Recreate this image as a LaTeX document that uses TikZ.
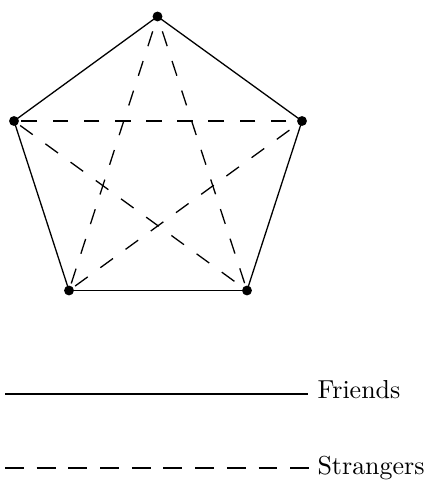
\documentclass[tikz,border=0pt]{standalone}
\usepackage{amsmath}
\usepackage{tikz}
\usetikzlibrary{positioning}

\tikzset{
    vertex/.style={circle, inner sep=0pt, minimum size=3.8pt},
    friend/.style={line width=0.5pt},
    stranger/.style={line width=0.5pt, dash pattern=on 6pt off 6pt, dash phase=6pt},
    keyline/.style={line width=1.1pt},
}

\begin{document}
\begin{tikzpicture}[x=0.385pt, y=-0.385pt]
    \useasboundingbox (0,0) rectangle (428,481);

    \node[vertex] (a) at (157.5,16.5) {};
    \node[vertex] (b) at (302,121) {};
    \node[vertex] (c) at (247,290.5) {};
    \node[vertex] (d) at (69,290.5) {};
    \node[vertex] (e) at (14,121) {};

    \path[friend]
        (a.center) edge (b.center)
        (b.center) edge (c.center)
        (c.center) edge (d.center)
        (d.center) edge (e.center)
        (e.center) edge (a.center);

    \path[stranger]
        (a.center) edge (c.center)
        (a.center) edge (d.center)
        (b.center) edge (d.center)
        (b.center) edge (e.center)
        (c.center) edge (e.center);

    % dots on top of the edges
    \foreach \v in {a,b,c,d,e}
        \fill (\v) circle[radius=1.9pt];

    % key
    \coordinate (f0) at (5,394);
    \coordinate (f1) at (308,394);
    \node[anchor=base west, inner sep=0pt] (friends) at (317,398) {Friends};
    \draw[keyline] (f0) -- (f1);

    \coordinate (s0) at (5,468);
    \coordinate (s1) at (310,468);
    \node[anchor=base west, inner sep=0pt] (strangers) at (317,474.5) {Strangers};
    \draw[keyline, dash pattern=on 7.3pt off 4.9pt] (s0) -- (s1);
\end{tikzpicture}
\end{document}
